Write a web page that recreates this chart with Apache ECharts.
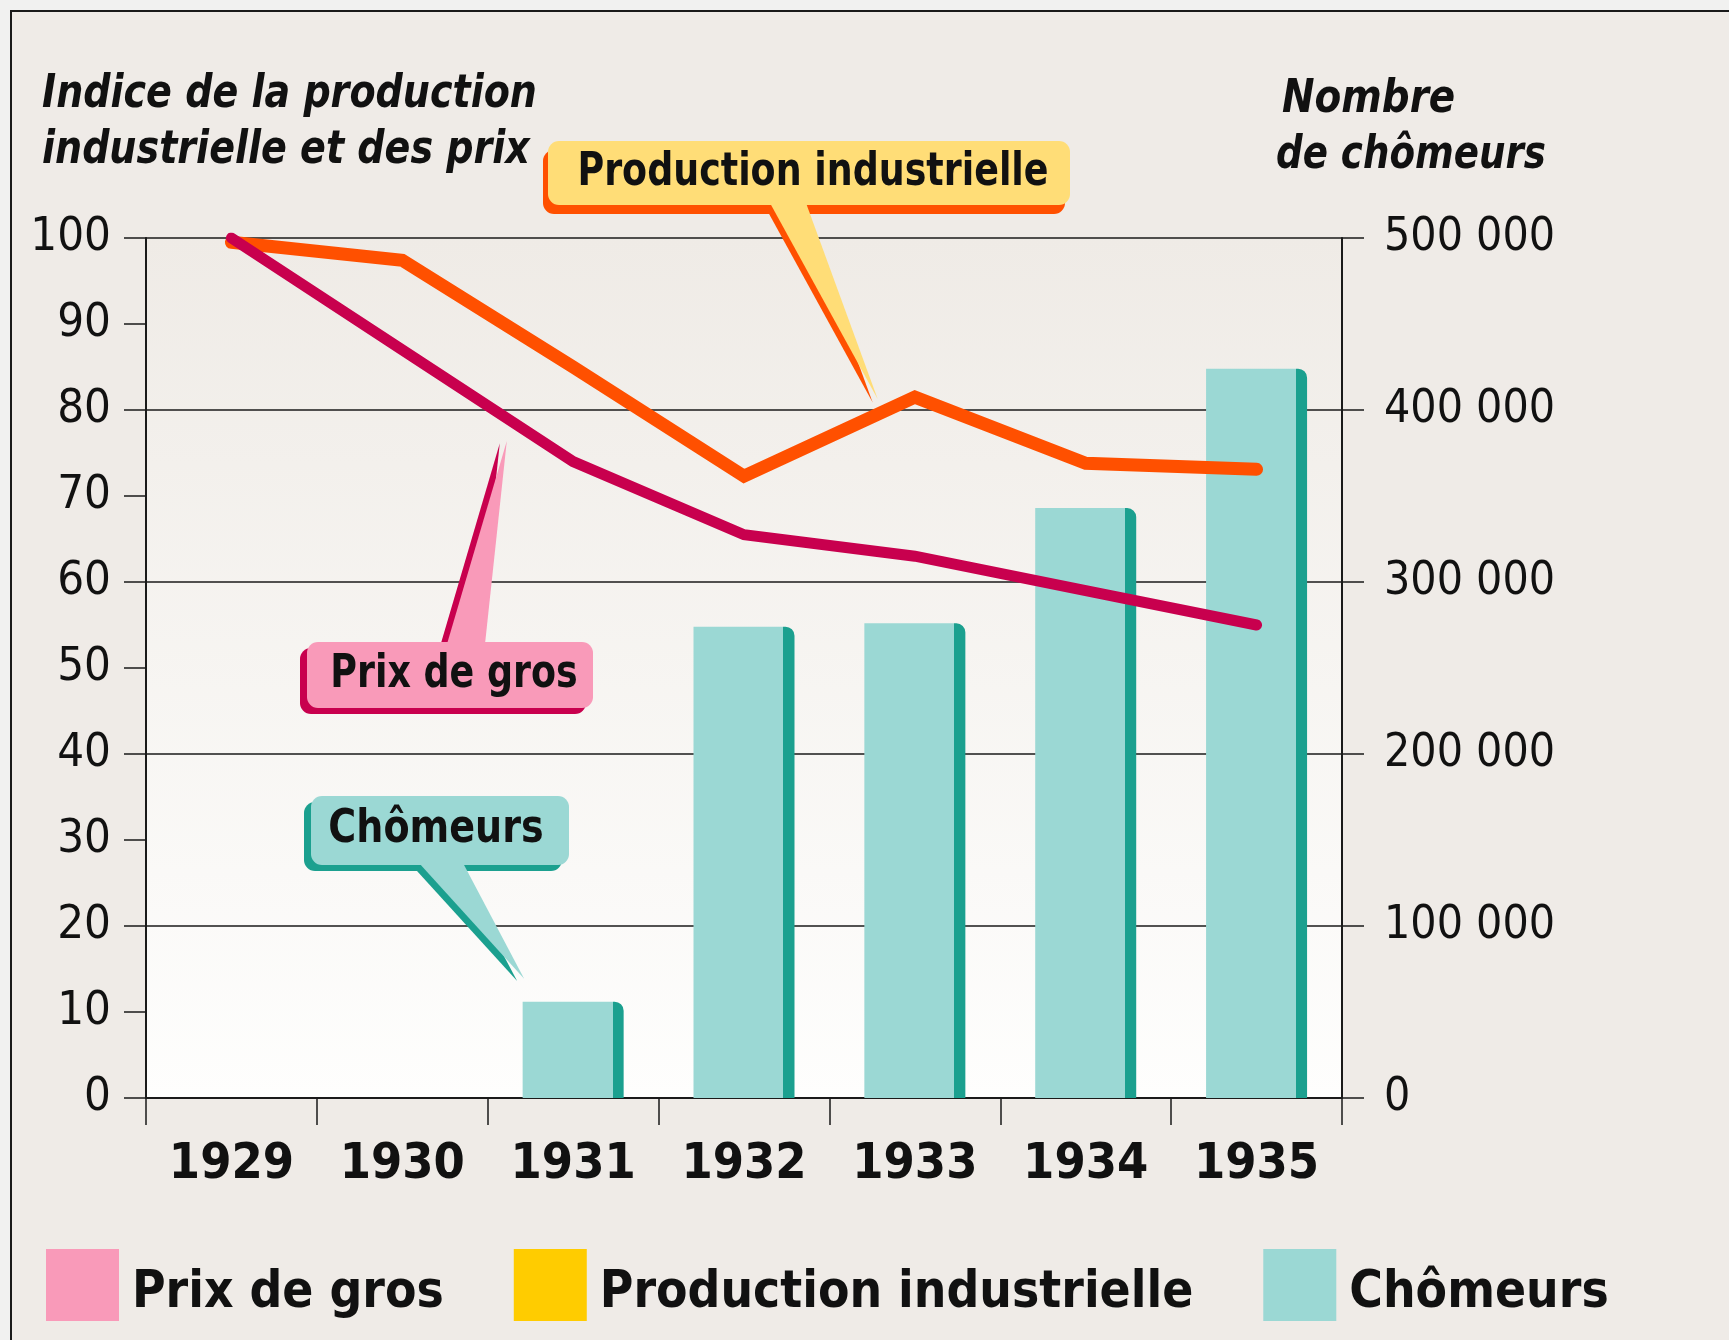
<!DOCTYPE html>
<html>
<head>
<meta charset="utf-8">
<script src="https://cdn.jsdelivr.net/npm/echarts@6/dist/echarts.min.js"></script>
<style>
  html, body { margin: 0; padding: 0; background: #f1f1f0; }
  body { width: 1729px; height: 1340px; overflow: hidden; position: relative; }
  #frame { position: absolute; left: 10px; top: 10px; width: 1740px; height: 1350px; background: #efebe7; border: 2px solid #1a1a1a; }
  #chart { position: absolute; left: 0; top: 0; width: 1729px; height: 1340px; }
</style>
</head>
<body>
<div id="frame"></div>
<div id="chart"></div>
<script>
// données
var years = ['1929', '1930', '1931', '1932', '1933', '1934', '1935']
var prixDeGros = [100, 87, 74, 65.5, 63, 59, 55]
var production = [99.5, 97.4, 85, 72.3, 81.5, 73.8, 73.1]
var chomeurs = [null, null, 56000, 274000, 276000, 343000, 424000]
var leftTicks = [0, 10, 20, 30, 40, 50, 60, 70, 80, 90, 100]
var rightTicks = [0, 100000, 200000, 300000, 400000, 500000]

var NARROW = "'Liberation Sans Narrow', 'DejaVu Sans Condensed', sans-serif"
var TEAL = '#9bd8d4'
var TEAL_DARK = '#1ba08f'

var chart = echarts.init(document.getElementById('chart'))

chart.setOption({
  backgroundColor: 'transparent',
  animation: false,
  grid: {
    left: 146,
    right: 387,
    top: 238,
    bottom: 242,
    show: true,
    borderWidth: 0,
    backgroundColor: new echarts.graphic.LinearGradient(0, 0, 0, 1, [
      { offset: 0, color: '#efebe6' },
      { offset: 1, color: '#fefefd' }
    ])
  },
  legend: {
    left: 46,
    top: 1249,
    padding: 0,
    itemWidth: 73,
    itemHeight: 72,
    itemGap: 70,
    selectedMode: false,
    formatter: '{t|{name}}',
    textStyle: {
      fontFamily: NARROW,
      fontWeight: 'bold',
      fontSize: 51,
      color: '#111',
      rich: {
        t: {
          fontFamily: NARROW,
          fontWeight: 'bold',
          fontSize: 51,
          color: '#111',
          padding: [18, 0, 0, 8]
        }
      }
    },
    data: [
      { name: 'Prix de gros', icon: 'rect', itemStyle: { color: '#f99ab9', borderWidth: 0 } },
      { name: 'Production industrielle', icon: 'rect', itemStyle: { color: '#ffcc00', borderWidth: 0 } },
      { name: 'Chômeurs', icon: 'rect', itemStyle: { color: TEAL, borderWidth: 0 } }
    ]
  },
  xAxis: {
    type: 'category',
    data: years,
    boundaryGap: true,
    axisLine: { lineStyle: { color: '#1a1a1a', width: 2 } },
    axisTick: { show: true, length: 27, lineStyle: { color: '#1a1a1a', width: 1.5 } },
    axisLabel: {
      interval: 0,
      margin: 42,
      fontFamily: NARROW,
      fontWeight: 'bold',
      fontSize: 50,
      color: '#111'
    }
  },
  yAxis: [
    {
      type: 'value',
      min: leftTicks[0],
      max: leftTicks[leftTicks.length - 1],
      interval: 10,
      position: 'left',
      axisLine: { show: true, lineStyle: { color: '#1a1a1a', width: 2 } },
      axisTick: { show: true, length: 22, lineStyle: { color: '#1a1a1a', width: 1.5 } },
      splitLine: { show: false },
      axisLabel: {
        margin: 35,
        padding: [0, 0, 18, 0],
        fontFamily: NARROW,
        fontSize: 47,
        color: '#111'
      }
    },
    {
      type: 'value',
      min: rightTicks[0],
      max: rightTicks[rightTicks.length - 1],
      interval: 100000,
      position: 'right',
      axisLine: { show: true, lineStyle: { color: '#1a1a1a', width: 2 } },
      axisTick: { show: true, length: 22, lineStyle: { color: '#1a1a1a', width: 1.5 } },
      splitLine: { show: true, lineStyle: { color: '#1a1a1a', width: 1.5 } },
      axisLabel: {
        margin: 42,
        padding: [0, 0, 18, 0],
        fontFamily: NARROW,
        fontSize: 46,
        color: '#111',
        formatter: function (v) {
          return v === 0 ? '0' : (v / 1000) + ' 000'
        }
      }
    }
  ],
  series: [
    {
      name: 'Chômeurs',
      type: 'bar',
      yAxisIndex: 1,
      barWidth: 101,
      data: chomeurs,
      itemStyle: {
        borderRadius: [0, 9, 0, 0],
        color: new echarts.graphic.LinearGradient(0, 0, 1, 0, [
          { offset: 0, color: TEAL },
          { offset: 0.89, color: TEAL },
          { offset: 0.89, color: TEAL_DARK },
          { offset: 1, color: TEAL_DARK }
        ])
      },
      z: 2
    },
    {
      name: 'Production industrielle',
      type: 'line',
      data: production,
      symbol: 'none',
      lineStyle: { color: '#ff5000', width: 13, cap: 'round', join: 'miter' },
      itemStyle: { color: '#ff5000' },
      z: 3
    },
    {
      name: 'Prix de gros',
      type: 'line',
      data: prixDeGros,
      symbol: 'none',
      lineStyle: { color: '#c8004e', width: 11, cap: 'round', join: 'miter' },
      itemStyle: { color: '#c8004e' },
      z: 4
    }
  ]
})

function px(i, v, axis) {
  return chart.convertToPixel({ xAxisIndex: 0, yAxisIndex: axis || 0 }, [years[i], v])
}

// bulle avec ombre décalée et pointe
function callout(box, off, base, tip, fill, shade, label, fs, sx) {
  var items = []
  var tailPts = [base[0], base[1], tip]
  items.push({
    type: 'rect', z: 20,
    shape: { x: box.x + off[0], y: box.y + off[1], width: box.w, height: box.h, r: 11 },
    style: { fill: shade }
  })
  items.push({
    type: 'polygon', z: 20,
    shape: { points: tailPts.map(function (p) { return [p[0] + off[0], p[1] + off[1] * 0.4] }) },
    style: { fill: shade }
  })
  items.push({
    type: 'polygon', z: 21,
    shape: { points: tailPts },
    style: { fill: fill }
  })
  items.push({
    type: 'rect', z: 21,
    shape: { x: box.x, y: box.y, width: box.w, height: box.h, r: 11 },
    style: { fill: fill }
  })
  items.push({
    type: 'text', z: 22,
    x: box.x + box.w / 2 + (box.tx || 0), y: box.y + box.h / 2,
    scaleX: sx,
    style: {
      text: label, fontFamily: NARROW, fontWeight: 'bold', fontSize: fs,
      fill: '#111', align: 'center', verticalAlign: 'middle'
    }
  })
  return items
}

function lerp(a, b, t) {
  return [a[0] + (b[0] - a[0]) * t, a[1] + (b[1] - a[1]) * t]
}

var pTip = lerp(px(3, production[3]), px(4, production[4]), 0.8)
pTip = [pTip[0] - 3, pTip[1] - 14]
var gTip = lerp(px(1, prixDeGros[1]), px(2, prixDeGros[2]), 0.6)
gTip = [gTip[0] + 2, gTip[1] + 24]
var cTip = px(2, chomeurs[2], 1)
cTip = [cTip[0] - 49, cTip[1] - 23]

var prodBox = { x: 548, y: 141, w: 522, h: 64, tx: 4 }
var prixBox = { x: 307, y: 642, w: 286, h: 66, tx: 4 }
var chomBox = { x: 311, y: 796, w: 258, h: 69, tx: -4 }

var titleStyle = {
  fontFamily: NARROW, fontWeight: 'bold', fontStyle: 'italic',
  fontSize: 47, fill: '#111', align: 'left', verticalAlign: 'middle'
}

var elements = []
  .concat(callout(prodBox, [-5, 9], [[770, 203], [806, 203]], pTip, '#ffdd77', '#ff5000', 'Production industrielle', 46, 0.88))
  .concat(callout(prixBox, [-7, 6], [[447, 644], [485, 644]], gTip, '#f99ab9', '#c8004e', 'Prix de gros', 46, 0.88))
  .concat(callout(chomBox, [-7, 6], [[419, 863], [463, 863]], cTip, TEAL, TEAL_DARK, 'Chômeurs', 46, 0.92))

;[
  ['Indice de la production', 42, 95, 0.9],
  ['industrielle et des prix', 42, 151, 0.9],
  ['Nombre', 1282, 100, 0.92],
  ['de chômeurs', 1276, 156, 0.88]
].forEach(function (t) {
  elements.push({
    type: 'text', x: t[1], y: t[2], z: 22, scaleX: t[3],
    style: Object.assign({ text: t[0] }, titleStyle)
  })
})

chart.setOption({ graphic: elements })
</script>
</body>
</html>
